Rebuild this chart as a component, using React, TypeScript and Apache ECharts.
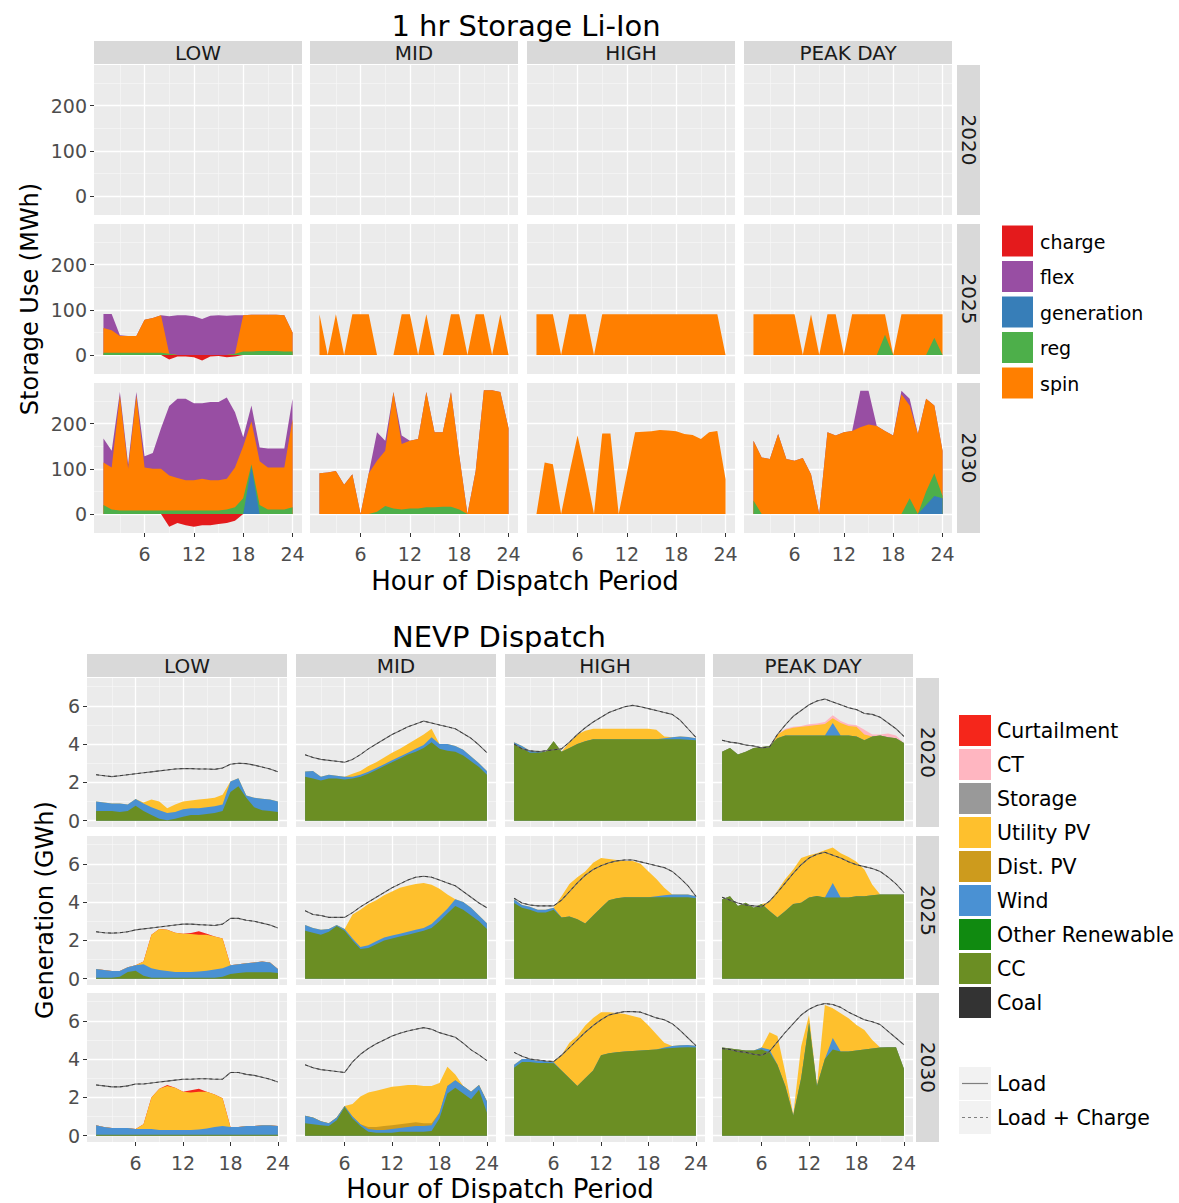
import React, { useEffect, useRef } from "react";
import * as echarts from "echarts";

// ---------- categories / ticks ----------
const HOURS = [1, 2, 3, 4, 5, 6, 7, 8, 9, 10, 11, 12, 13, 14, 15, 16, 17, 18, 19, 20, 21, 22, 23, 24];
const SCENARIOS = ["LOW", "MID", "HIGH", "PEAK DAY"];
const YEARS = ["2020", "2025", "2030"];
const X_TICKS = [6, 12, 18, 24];
const X_MINOR = [3, 9, 15, 21];
const STOR_TICKS = [0, 100, 200];
const STOR_MINOR = [50, 150, 250];
const GEN_TICKS = [0, 2, 4, 6];
const GEN_MINOR = [1, 3, 5, 7];

const STOR_LEGEND = ["charge", "flex", "generation", "reg", "spin"];
const STOR_COLORS = ["#E41A1C", "#984EA3", "#377EB8", "#4DAF4A", "#FF7F00"];
const GEN_LEGEND = ["Curtailment", "CT", "Storage", "Utility PV", "Dist. PV", "Wind", "Other Renewable", "CC", "Coal"];
const GEN_COLORS = ["#F5261B", "#FFB6C1", "#999999", "#FEC02D", "#CD9B1D", "#4A91D3", "#108A10", "#6B8E23", "#333333"];

// ---------- storage use (MWh), hours 1..24 ----------
const ST_LOW_2025_CHARGE = [0, 0, 0, 0, 0, 0, 0, 0, -10, -3, -3, -5, -12, -3, -2, -5, -3, 0, 0, 0, 0, 0, 0, 0];
const ST_LOW_2025_REG = [5, 5, 5, 5, 5, 5, 5, 5, 3, 0, 0, 0, 0, 0, 0, 0, 3, 8, 8, 9, 9, 9, 8, 8];
const ST_LOW_2025_SPIN = [55, 50, 37, 37, 37, 73, 77, 83, 0, 0, 0, 0, 0, 0, 0, 0, 0, 80, 81, 80, 80, 80, 80, 42];
const ST_LOW_2025_FLEX = [31, 36, 2, 0, 0, 0, 0, 0, 83, 88, 88, 86, 80, 87, 88, 87, 85, 0, 0, 0, 0, 0, 0, 0];

const ST_LOW_2030_CHARGE = [0, 0, 0, 0, 0, 0, 0, 0, -28, -20, -25, -28, -25, -25, -22, -20, -15, 0, 0, 0, 0, 0, 0, 0];
const ST_LOW_2030_GEN = [0, 0, 0, 0, 0, 0, 0, 0, 0, 0, 0, 0, 0, 0, 0, 0, 0, 0, 105, 0, 0, 0, 0, 0];
const ST_LOW_2030_REG = [20, 10, 8, 8, 8, 8, 8, 8, 8, 8, 8, 8, 8, 8, 8, 10, 15, 35, 5, 20, 10, 10, 10, 15];
const ST_LOW_2030_SPIN = [94, 93, 254, 92, 254, 95, 92, 92, 77, 72, 67, 67, 70, 67, 67, 68, 88, 115, 95, 97, 93, 93, 93, 195];
const ST_LOW_2030_FLEX = [53, 37, 8, 10, 8, 25, 35, 90, 154, 175, 180, 170, 167, 173, 173, 180, 122, 20, 35, 30, 42, 42, 42, 45];

const ST_MID_2025_SPIN = [90, 0, 90, 0, 90, 90, 90, 0, 0, 0, 90, 90, 0, 90, 0, 0, 90, 90, 0, 90, 90, 0, 90, 0];

const ST_MID_2030_REG = [0, 0, 0, 0, 0, 0, 0, 5, 18, 12, 10, 12, 12, 15, 15, 16, 16, 10, 0, 0, 0, 0, 0, 0];
const ST_MID_2030_SPIN = [90, 92, 95, 65, 88, 0, 90, 113, 122, 258, 145, 150, 154, 255, 166, 165, 254, 120, 0, 95, 274, 274, 270, 190];
const ST_MID_2030_FLEX = [0, 0, 0, 0, 0, 0, 0, 63, 22, 0, 19, 0, 0, 0, 0, 0, 0, 0, 0, 0, 0, 0, 0, 0];

const ST_HIGH_2025_SPIN = [90, 90, 90, 0, 90, 90, 90, 0, 90, 90, 90, 90, 90, 90, 90, 90, 90, 90, 90, 90, 90, 90, 90, 0];
const ST_HIGH_2030_SPIN = [0, 114, 110, 0, 90, 174, 90, 0, 178, 178, 0, 90, 181, 182, 183, 186, 185, 183, 177, 175, 166, 181, 184, 77];

const ST_PEAK_2025_REG = [0, 0, 0, 0, 0, 0, 0, 0, 0, 0, 0, 0, 0, 0, 0, 0, 45, 0, 0, 0, 0, 0, 38, 0];
const ST_PEAK_2025_SPIN = [90, 90, 90, 90, 90, 90, 0, 90, 0, 90, 90, 0, 90, 90, 90, 90, 45, 0, 90, 90, 90, 90, 52, 90];

const ST_PEAK_2030_GEN = [0, 0, 0, 0, 0, 0, 0, 0, 0, 0, 0, 0, 0, 0, 0, 0, 0, 0, 0, 0, 0, 20, 40, 35];
const ST_PEAK_2030_REG = [30, 0, 0, 0, 0, 0, 0, 0, 0, 0, 0, 0, 0, 0, 0, 0, 0, 0, 0, 35, 0, 30, 50, 5];
const ST_PEAK_2030_SPIN = [132, 125, 122, 177, 122, 118, 124, 88, 0, 181, 174, 181, 184, 192, 198, 195, 184, 174, 265, 205, 177, 205, 150, 100];
const ST_PEAK_2030_FLEX = [0, 0, 0, 0, 0, 0, 0, 0, 0, 0, 0, 0, 0, 81, 75, 0, 0, 0, 8, 15, 0, 0, 0, 0];

// ---------- NEVP dispatch (GWh), hours 1..24 ----------
const GN_LOW_2020_CC = [0.5, 0.5, 0.5, 0.45, 0.5, 0.78, 0.5, 0.3, 0.1, 0.02, 0.1, 0.2, 0.3, 0.3, 0.35, 0.4, 0.5, 1.5, 1.8, 1.2, 0.7, 0.55, 0.5, 0.45];
const GN_LOW_2020_WIND = [0.5, 0.45, 0.4, 0.45, 0.35, 0.35, 0.4, 0.4, 0.45, 0.38, 0.35, 0.4, 0.35, 0.35, 0.35, 0.35, 0.35, 0.55, 0.42, 0.12, 0.5, 0.6, 0.6, 0.55];
const GN_LOW_2020_UPV = [0, 0, 0, 0, 0, 0, 0.05, 0.4, 0.45, 0.25, 0.4, 0.4, 0.4, 0.45, 0.45, 0.45, 0.5, 0, 0, 0, 0, 0, 0, 0];
const GN_LOW_2020_LOAD = [2.4, 2.35, 2.3, 2.35, 2.4, 2.45, 2.5, 2.55, 2.6, 2.65, 2.7, 2.72, 2.72, 2.7, 2.7, 2.68, 2.75, 2.95, 3.0, 2.98, 2.9, 2.8, 2.7, 2.55];

const GN_MID_2020_CC = [2.3, 2.2, 2.1, 2.2, 2.2, 2.15, 2.2, 2.3, 2.45, 2.65, 2.85, 3.05, 3.25, 3.45, 3.6, 3.8, 4.1, 3.75, 3.65, 3.6, 3.4, 3.1, 2.8, 2.4];
const GN_MID_2020_WIND = [0.27, 0.4, 0.2, 0.2, 0.15, 0.15, 0.1, 0.1, 0.1, 0.1, 0.1, 0.1, 0.1, 0.1, 0.15, 0.15, 0.25, 0.25, 0.35, 0.3, 0.3, 0.25, 0.2, 0.2];
const GN_MID_2020_UPV = [0, 0, 0, 0, 0, 0, 0.15, 0.2, 0.3, 0.3, 0.35, 0.4, 0.4, 0.45, 0.5, 0.55, 0.45, 0, 0, 0, 0, 0, 0, 0];
const GN_MID_2020_LOAD = [3.44, 3.3, 3.2, 3.15, 3.1, 3.05, 3.2, 3.45, 3.75, 4.0, 4.25, 4.5, 4.7, 4.9, 5.05, 5.2, 5.1, 5.0, 4.9, 4.8, 4.55, 4.3, 3.95, 3.55];

const GN_HIGH_2020_CC = [4.0, 3.8, 3.55, 3.55, 3.6, 4.15, 3.6, 3.8, 4.0, 4.15, 4.25, 4.25, 4.25, 4.25, 4.25, 4.25, 4.25, 4.25, 4.25, 4.25, 4.25, 4.25, 4.22, 4.2];
const GN_HIGH_2020_WIND = [0.1, 0.1, 0.1, 0.1, 0, 0, 0, 0, 0, 0, 0, 0, 0, 0, 0, 0, 0, 0, 0, 0.05, 0.1, 0.15, 0.15, 0.1];
const GN_HIGH_2020_UPV = [0, 0, 0, 0, 0, 0, 0, 0.3, 0.5, 0.55, 0.55, 0.55, 0.55, 0.55, 0.55, 0.55, 0.55, 0.55, 0.5, 0.1, 0, 0, 0, 0];
const GN_HIGH_2020_LOAD = [4.0, 3.75, 3.65, 3.6, 3.65, 3.7, 3.75, 4.1, 4.5, 4.85, 5.15, 5.4, 5.65, 5.8, 5.95, 6.02, 5.95, 5.85, 5.75, 5.65, 5.55, 5.25, 4.8, 4.35];

const GN_PEAK_2020_CC = [3.6, 3.8, 3.45, 3.6, 3.8, 3.85, 3.9, 4.3, 4.45, 4.45, 4.45, 4.45, 4.45, 4.45, 4.45, 4.45, 4.45, 4.4, 4.2, 4.4, 4.45, 4.35, 4.3, 4.05];
const GN_PEAK_2020_WIND = [0, 0, 0, 0, 0, 0, 0, 0, 0, 0, 0, 0, 0, 0, 0.65, 0, 0, 0, 0, 0, 0, 0, 0, 0];
const GN_PEAK_2020_UPV = [0, 0, 0, 0, 0, 0, 0, 0.2, 0.3, 0.4, 0.45, 0.5, 0.55, 0.6, 0.25, 0.65, 0.5, 0.5, 0.3, 0, 0, 0, 0, 0];
const GN_PEAK_2020_CT = [0, 0, 0, 0, 0, 0, 0, 0, 0.05, 0.05, 0.05, 0.08, 0.08, 0.1, 0.15, 0.1, 0.08, 0.08, 0.25, 0.1, 0.05, 0.2, 0.15, 0];
const GN_PEAK_2020_LOAD = [4.2, 4.1, 4.05, 3.95, 3.9, 3.8, 3.85, 4.5, 5.0, 5.45, 5.75, 6.05, 6.25, 6.35, 6.2, 6.05, 5.9, 5.8, 5.6, 5.55, 5.4, 5.1, 4.8, 4.4];

const GN_LOW_2025_CC = [0.05, 0.05, 0.05, 0.1, 0.35, 0.42, 0.15, 0.05, 0.05, 0.05, 0.05, 0.05, 0.05, 0.05, 0.05, 0.05, 0.1, 0.25, 0.3, 0.33, 0.33, 0.33, 0.33, 0.3];
const GN_LOW_2025_WIND = [0.45, 0.4, 0.35, 0.3, 0.25, 0.28, 0.6, 0.5, 0.4, 0.35, 0.3, 0.3, 0.3, 0.33, 0.37, 0.43, 0.45, 0.45, 0.45, 0.47, 0.52, 0.57, 0.52, 0.2];
const GN_LOW_2025_UPV = [0, 0, 0, 0, 0, 0, 0.15, 1.75, 2.15, 2.15, 2.05, 2.0, 1.98, 1.92, 1.88, 1.72, 1.55, 0, 0, 0, 0, 0, 0, 0];
const GN_LOW_2025_CURT = [0, 0, 0, 0, 0, 0, 0, 0, 0, 0, 0, 0, 0.05, 0.18, 0.05, 0, 0, 0, 0, 0, 0, 0, 0, 0];
const GN_LOW_2025_LOAD = [2.45, 2.4, 2.38, 2.4, 2.45, 2.55, 2.6, 2.65, 2.7, 2.75, 2.8, 2.85, 2.85, 2.82, 2.8, 2.78, 2.85, 3.15, 3.15, 3.05, 3.0, 2.9, 2.8, 2.65];

const GN_MID_2025_CC = [2.5, 2.4, 2.3, 2.45, 2.75, 2.5, 2.0, 1.55, 1.6, 1.8, 2.0, 2.1, 2.2, 2.3, 2.4, 2.5, 2.65, 3.0, 3.4, 3.8, 3.6, 3.3, 3.0, 2.6];
const GN_MID_2025_WIND = [0.3, 0.25, 0.25, 0.15, 0.05, 0.1, 0.1, 0.1, 0.15, 0.15, 0.15, 0.15, 0.15, 0.15, 0.15, 0.15, 0.2, 0.25, 0.25, 0.35, 0.4, 0.4, 0.3, 0.3];
const GN_MID_2025_UPV = [0, 0, 0, 0, 0, 0, 1.25, 1.95, 2.15, 2.15, 2.2, 2.3, 2.4, 2.4, 2.4, 2.35, 2.05, 1.45, 0.75, 0, 0, 0, 0, 0];
const GN_MID_2025_LOAD = [3.55, 3.35, 3.3, 3.2, 3.2, 3.2, 3.45, 3.75, 4.0, 4.25, 4.5, 4.75, 4.95, 5.15, 5.3, 5.35, 5.3, 5.15, 5.0, 4.85, 4.55, 4.25, 3.95, 3.7];

const GN_HIGH_2025_CC = [3.95, 3.7, 3.6, 3.45, 3.45, 3.6, 3.2, 3.25, 3.1, 2.88, 3.3, 3.7, 4.1, 4.2, 4.25, 4.25, 4.25, 4.25, 4.25, 4.25, 4.25, 4.25, 4.25, 4.2];
const GN_HIGH_2025_WIND = [0.2, 0.15, 0.15, 0.15, 0.15, 0.1, 0, 0, 0, 0, 0, 0, 0, 0, 0, 0, 0, 0, 0.05, 0.1, 0.15, 0.15, 0.15, 0.1];
const GN_HIGH_2025_UPV = [0, 0, 0, 0, 0, 0, 1.1, 1.7, 2.2, 2.72, 2.75, 2.6, 2.15, 2.0, 1.9, 1.9, 1.75, 1.35, 0.9, 0.4, 0, 0, 0, 0];
const GN_HIGH_2025_LOAD = [4.2, 3.95, 3.85, 3.8, 3.8, 3.8, 4.1, 4.55, 5.0, 5.4, 5.7, 5.9, 6.05, 6.15, 6.2, 6.2, 6.1, 6.0, 5.9, 5.8, 5.6, 5.25, 4.85, 4.3];

const GN_PEAK_2025_CC = [4.15, 4.3, 3.8, 3.97, 3.7, 3.9, 3.54, 3.2, 3.54, 3.9, 3.97, 4.24, 4.32, 4.24, 4.24, 4.24, 4.24, 4.3, 4.3, 4.35, 4.4, 4.4, 4.4, 4.4];
const GN_PEAK_2025_WIND = [0, 0, 0, 0, 0, 0, 0, 0, 0, 0, 0, 0, 0, 0, 0.75, 0, 0, 0, 0, 0, 0, 0, 0, 0];
const GN_PEAK_2025_UPV = [0, 0, 0, 0, 0, 0, 0.46, 1.4, 1.66, 1.8, 2.33, 2.21, 2.23, 2.46, 1.86, 2.31, 2.11, 1.8, 1.4, 0.55, 0, 0, 0, 0];
const GN_PEAK_2025_LOAD = [4.25, 4.1, 3.95, 3.85, 3.8, 3.75, 4.05, 4.5, 5.0, 5.5, 5.95, 6.3, 6.5, 6.6, 6.45, 6.3, 6.1, 5.95, 5.85, 5.75, 5.6, 5.3, 4.95, 4.5];

const GN_LOW_2030_CC = [0.05, 0.05, 0.05, 0.05, 0.05, 0.05, 0.05, 0.05, 0.05, 0.05, 0.05, 0.05, 0.05, 0.05, 0.05, 0.05, 0.05, 0.05, 0.05, 0.05, 0.05, 0.05, 0.05, 0.05];
const GN_LOW_2030_WIND = [0.49, 0.4, 0.35, 0.35, 0.35, 0.3, 0.3, 0.3, 0.25, 0.25, 0.25, 0.25, 0.25, 0.27, 0.33, 0.4, 0.45, 0.4, 0.4, 0.45, 0.45, 0.5, 0.5, 0.45];
const GN_LOW_2030_UPV = [0, 0, 0, 0, 0, 0, 0.25, 1.65, 2.15, 2.3, 2.2, 2.0, 1.95, 1.98, 1.92, 1.7, 1.45, 0, 0, 0, 0, 0, 0, 0];
const GN_LOW_2030_CURT = [0, 0, 0, 0, 0, 0, 0, 0, 0, 0.05, 0, 0, 0.12, 0.15, 0, 0, 0, 0, 0, 0, 0, 0, 0, 0];
const GN_LOW_2030_LOAD = [2.65, 2.6, 2.55, 2.55, 2.6, 2.7, 2.7, 2.75, 2.8, 2.85, 2.9, 2.95, 2.95, 2.97, 2.97, 2.95, 2.95, 3.3, 3.3, 3.2, 3.15, 3.05, 2.95, 2.8];

const GN_MID_2030_CC = [0.65, 0.6, 0.55, 0.5, 0.8, 1.5, 0.9, 0.5, 0.2, 0.15, 0.15, 0.15, 0.2, 0.2, 0.2, 0.2, 0.25, 0.9, 2.2, 2.5, 2.2, 1.9, 2.4, 1.2];
const GN_MID_2030_WIND = [0.39, 0.35, 0.2, 0.15, 0.15, 0.05, 0.1, 0.1, 0.15, 0.15, 0.15, 0.2, 0.2, 0.25, 0.3, 0.3, 0.3, 0.3, 0.4, 0.4, 0.4, 0.4, 0.25, 0.6];
const GN_MID_2030_DPV = [0, 0, 0, 0, 0, 0, 0, 0, 0.1, 0.15, 0.2, 0.2, 0.2, 0.2, 0.2, 0.15, 0.1, 0, 0, 0, 0, 0, 0, 0];
const GN_MID_2030_UPV = [0, 0, 0, 0, 0, 0, 0.65, 1.45, 1.8, 1.9, 1.95, 2.0, 2.0, 2.0, 1.95, 1.95, 1.95, 1.55, 1.0, 0.3, 0, 0, 0, 0];
const GN_MID_2030_LOAD = [3.7, 3.55, 3.45, 3.4, 3.35, 3.3, 3.85, 4.25, 4.55, 4.8, 5.0, 5.2, 5.35, 5.47, 5.56, 5.64, 5.56, 5.38, 5.26, 5.14, 4.83, 4.48, 4.22, 3.92];

const GN_HIGH_2030_CC = [3.55, 3.85, 3.85, 3.8, 3.8, 3.78, 3.4, 3.0, 2.6, 3.0, 3.4, 4.2, 4.3, 4.35, 4.4, 4.42, 4.45, 4.47, 4.5, 4.55, 4.58, 4.6, 4.62, 4.6];
const GN_HIGH_2030_WIND = [0.15, 0.15, 0.15, 0.1, 0.1, 0.05, 0, 0, 0, 0, 0, 0, 0, 0, 0, 0, 0, 0, 0, 0.05, 0.1, 0.12, 0.12, 0.1];
const GN_HIGH_2030_UPV = [0, 0, 0, 0, 0, 0.07, 0.8, 1.85, 2.6, 2.75, 2.75, 2.25, 2.15, 2.05, 1.95, 1.83, 1.7, 1.28, 0.8, 0.25, 0, 0, 0, 0];
const GN_HIGH_2030_LOAD = [4.35, 4.15, 4.0, 3.95, 3.9, 3.87, 4.2, 4.6, 5.0, 5.4, 5.75, 6.05, 6.3, 6.4, 6.48, 6.48, 6.45, 6.3, 6.15, 6.05, 5.85, 5.5, 5.1, 4.7];

const GN_PEAK_2030_CC = [4.6, 4.55, 4.5, 4.45, 4.45, 4.5, 4.35, 3.7, 2.6, 1.05, 3.0, 5.9, 2.6, 4.0, 4.5, 4.4, 4.4, 4.45, 4.5, 4.55, 4.6, 4.62, 4.62, 3.5];
const GN_PEAK_2030_WIND = [0, 0, 0, 0, 0, 0.1, 0.15, 0, 0, 0, 0, 0, 0, 0, 0.6, 0, 0, 0, 0, 0, 0, 0, 0, 0];
const GN_PEAK_2030_UPV = [0, 0, 0, 0, 0, 0, 0.9, 1.5, 0.7, 0.05, 1.65, 0.4, 0, 2.82, 1.55, 1.99, 1.73, 1.33, 1.02, 0.45, 0, 0, 0, 0];
const GN_PEAK_2030_LOAD = [4.55, 4.5, 4.4, 4.35, 4.25, 4.2, 4.4, 4.9, 5.4, 5.85, 6.3, 6.6, 6.8, 6.9, 6.85, 6.7, 6.45, 6.25, 6.05, 5.95, 5.8, 5.45, 5.1, 4.75];

// ---------- panel tables (built from the arrays above) ----------
type StorPanel = { gen?: number[]; reg?: number[]; spin?: number[]; flex?: number[]; charge?: number[] };
const STOR_PANELS: Record<string, StorPanel> = {
  "2025|LOW": { reg: ST_LOW_2025_REG, spin: ST_LOW_2025_SPIN, flex: ST_LOW_2025_FLEX, charge: ST_LOW_2025_CHARGE },
  "2030|LOW": { gen: ST_LOW_2030_GEN, reg: ST_LOW_2030_REG, spin: ST_LOW_2030_SPIN, flex: ST_LOW_2030_FLEX, charge: ST_LOW_2030_CHARGE },
  "2025|MID": { spin: ST_MID_2025_SPIN },
  "2030|MID": { reg: ST_MID_2030_REG, spin: ST_MID_2030_SPIN, flex: ST_MID_2030_FLEX },
  "2025|HIGH": { spin: ST_HIGH_2025_SPIN },
  "2030|HIGH": { spin: ST_HIGH_2030_SPIN },
  "2025|PEAK DAY": { reg: ST_PEAK_2025_REG, spin: ST_PEAK_2025_SPIN },
  "2030|PEAK DAY": { gen: ST_PEAK_2030_GEN, reg: ST_PEAK_2030_REG, spin: ST_PEAK_2030_SPIN, flex: ST_PEAK_2030_FLEX },
};

type GenPanel = { cc: number[]; wind: number[]; dpv?: number[]; upv: number[]; ct?: number[]; curt?: number[]; load: number[] };
const GEN_PANELS: Record<string, GenPanel> = {
  "2020|LOW": { cc: GN_LOW_2020_CC, wind: GN_LOW_2020_WIND, upv: GN_LOW_2020_UPV, load: GN_LOW_2020_LOAD },
  "2020|MID": { cc: GN_MID_2020_CC, wind: GN_MID_2020_WIND, upv: GN_MID_2020_UPV, load: GN_MID_2020_LOAD },
  "2020|HIGH": { cc: GN_HIGH_2020_CC, wind: GN_HIGH_2020_WIND, upv: GN_HIGH_2020_UPV, load: GN_HIGH_2020_LOAD },
  "2020|PEAK DAY": { cc: GN_PEAK_2020_CC, wind: GN_PEAK_2020_WIND, upv: GN_PEAK_2020_UPV, ct: GN_PEAK_2020_CT, load: GN_PEAK_2020_LOAD },
  "2025|LOW": { cc: GN_LOW_2025_CC, wind: GN_LOW_2025_WIND, upv: GN_LOW_2025_UPV, curt: GN_LOW_2025_CURT, load: GN_LOW_2025_LOAD },
  "2025|MID": { cc: GN_MID_2025_CC, wind: GN_MID_2025_WIND, upv: GN_MID_2025_UPV, load: GN_MID_2025_LOAD },
  "2025|HIGH": { cc: GN_HIGH_2025_CC, wind: GN_HIGH_2025_WIND, upv: GN_HIGH_2025_UPV, load: GN_HIGH_2025_LOAD },
  "2025|PEAK DAY": { cc: GN_PEAK_2025_CC, wind: GN_PEAK_2025_WIND, upv: GN_PEAK_2025_UPV, load: GN_PEAK_2025_LOAD },
  "2030|LOW": { cc: GN_LOW_2030_CC, wind: GN_LOW_2030_WIND, upv: GN_LOW_2030_UPV, curt: GN_LOW_2030_CURT, load: GN_LOW_2030_LOAD },
  "2030|MID": { cc: GN_MID_2030_CC, wind: GN_MID_2030_WIND, dpv: GN_MID_2030_DPV, upv: GN_MID_2030_UPV, load: GN_MID_2030_LOAD },
  "2030|HIGH": { cc: GN_HIGH_2030_CC, wind: GN_HIGH_2030_WIND, upv: GN_HIGH_2030_UPV, load: GN_HIGH_2030_LOAD },
  "2030|PEAK DAY": { cc: GN_PEAK_2030_CC, wind: GN_PEAK_2030_WIND, upv: GN_PEAK_2030_UPV, load: GN_PEAK_2030_LOAD },
};

// ---------- layout ----------
const FONT = "DejaVu Sans";
const TOP_LEFTS = [94, 310, 527, 744];
const TOP_TOPS = [65, 224, 383];
const TOP_W = 208;
const TOP_H = 150;
const BOT_LEFTS = [87, 296, 505, 713];
const BOT_TOPS = [678, 836, 993];
const BOT_W = 200;
const BOT_H = 149;

type Layer = { name: string; color: string; values?: number[] };

function buildOption() {
  const grid: any[] = [];
  const xAxis: any[] = [];
  const yAxis: any[] = [];
  const series: any[] = [];
  const graphic: any[] = [];

  const addGrid = (left: number, top: number, w: number, h: number, yMin: number, yMax: number,
    yTicks: number[], yMinor: number[], showX: boolean, showY: boolean) => {
    const g = grid.length;
    grid.push({ left, top, width: w, height: h, show: true, backgroundColor: "#EBEBEB", borderWidth: 0 });
    const xb = { type: "value", gridIndex: g, min: -0.15, max: 25.15, axisLine: { show: false, onZero: false } };
    xAxis.push({
      ...xb,
      axisTick: { show: showX, customValues: X_TICKS, length: 4, lineStyle: { color: "#333333", width: 1 } },
      axisLabel: { show: showX, customValues: X_TICKS, color: "#4D4D4D", fontSize: 19, fontFamily: FONT, margin: 11 },
      splitLine: { show: true, lineStyle: { color: "#FFFFFF", width: 1.3 } },
    });
    xAxis.push({
      ...xb,
      axisTick: { show: false, customValues: X_MINOR },
      axisLabel: { show: false, customValues: X_MINOR },
      splitLine: { show: true, lineStyle: { color: "#F8F8F8", width: 0.6 } },
    });
    const yb = { type: "value", gridIndex: g, min: yMin, max: yMax, axisLine: { show: false, onZero: false } };
    yAxis.push({
      ...yb,
      axisTick: { show: showY, customValues: yTicks, length: 4, lineStyle: { color: "#333333", width: 1 } },
      axisLabel: { show: showY, customValues: yTicks, color: "#4D4D4D", fontSize: 19, fontFamily: FONT, margin: 7 },
      splitLine: { show: true, lineStyle: { color: "#FFFFFF", width: 1.3 } },
    });
    yAxis.push({
      ...yb,
      axisTick: { show: false, customValues: yMinor },
      axisLabel: { show: false, customValues: yMinor },
      splitLine: { show: true, lineStyle: { color: "#F8F8F8", width: 0.6 } },
    });
    return g;
  };

  // stacked areas: cumulative tops drawn from highest layer down (painter's order)
  const addStack = (g: number, layers: Layer[]) => {
    let run = HOURS.map(() => 0);
    const tops: { name: string; color: string; top: number[] }[] = [];
    layers.forEach((l) => {
      if (!l.values) return;
      const vals = l.values;
      run = run.map((v, i) => Math.round((v + vals[i]) * 1000) / 1000);
      tops.push({ name: l.name, color: l.color, top: run });
    });
    for (let k = tops.length - 1; k >= 0; k--) {
      const t = tops[k];
      series.push({
        type: "line", name: t.name, xAxisIndex: 2 * g, yAxisIndex: 2 * g,
        data: HOURS.map((hr, i) => [hr, t.top[i]]),
        symbol: "none", silent: true, z: 2,
        lineStyle: { width: 0, opacity: 0 },
        areaStyle: { color: t.color, opacity: 1 },
        emphasis: { disabled: true },
      });
    }
  };

  const stripText = (x: number, y: number, text: string, rot: number, size: number) => ({
    type: "text", x, y, rotation: rot, silent: true,
    style: { text, fill: "#1A1A1A", fontSize: size, fontFamily: FONT, align: "center", verticalAlign: "middle", textAlign: "center", textVerticalAlign: "middle" },
  });
  const plainText = (x: number, y: number, text: string, size: number, rot = 0, align = "center", color = "#000000") => ({
    type: "text", x, y, rotation: rot, silent: true,
    style: { text, fill: color, fontSize: size, fontFamily: FONT, align, verticalAlign: "middle", textAlign: align, textVerticalAlign: "middle" },
  });

  // ===== Top: 1 hr Storage Li-Ion =====
  YEARS.forEach((yr, r) => {
    SCENARIOS.forEach((sc, c) => {
      const g = addGrid(TOP_LEFTS[c], TOP_TOPS[r], TOP_W, TOP_H, -42, 290, STOR_TICKS, STOR_MINOR, r === 2, c === 0);
      const p = STOR_PANELS[yr + "|" + sc];
      if (p) {
        addStack(g, [
          { name: "generation", color: STOR_COLORS[2], values: p.gen },
          { name: "reg", color: STOR_COLORS[3], values: p.reg },
          { name: "spin", color: STOR_COLORS[4], values: p.spin },
          { name: "flex", color: STOR_COLORS[1], values: p.flex },
        ]);
        if (p.charge) addStack(g, [{ name: "charge", color: STOR_COLORS[0], values: p.charge }]);
      }
    });
  });
  SCENARIOS.forEach((sc, c) => {
    graphic.push({ type: "rect", silent: true, shape: { x: TOP_LEFTS[c], y: 41, width: TOP_W, height: 23 }, style: { fill: "#D9D9D9" } });
    graphic.push(stripText(TOP_LEFTS[c] + TOP_W / 2, 53, sc, 0, 20));
  });
  YEARS.forEach((yr, r) => {
    graphic.push({ type: "rect", silent: true, shape: { x: 957, y: TOP_TOPS[r], width: 23, height: TOP_H }, style: { fill: "#D9D9D9" } });
    graphic.push(stripText(968.5, TOP_TOPS[r] + TOP_H / 2, yr, -Math.PI / 2, 20));
  });
  graphic.push(plainText(526, 26, "1 hr Storage Li-Ion", 29));
  graphic.push(plainText(525, 581, "Hour of Dispatch Period", 26));
  graphic.push(plainText(30, 299, "Storage Use (MWh)", 24, Math.PI / 2));
  STOR_LEGEND.forEach((name, i) => {
    const y = 225.5 + i * 35.5;
    graphic.push({ type: "rect", silent: true, shape: { x: 1002, y, width: 31, height: 31 }, style: { fill: STOR_COLORS[i] } });
    graphic.push(plainText(1040, y + 16, name, 19, 0, "left"));
  });

  // ===== Bottom: NEVP Dispatch =====
  YEARS.forEach((yr, r) => {
    SCENARIOS.forEach((sc, c) => {
      const g = addGrid(BOT_LEFTS[c], BOT_TOPS[r], BOT_W, BOT_H, -0.33, 7.45, GEN_TICKS, GEN_MINOR, r === 2, c === 0);
      const p = GEN_PANELS[yr + "|" + sc];
      if (p) {
        addStack(g, [
          { name: "CC", color: GEN_COLORS[7], values: p.cc },
          { name: "Wind", color: GEN_COLORS[5], values: p.wind },
          { name: "Dist. PV", color: GEN_COLORS[4], values: p.dpv },
          { name: "Utility PV", color: GEN_COLORS[3], values: p.upv },
          { name: "CT", color: GEN_COLORS[1], values: p.ct },
          { name: "Curtailment", color: GEN_COLORS[0], values: p.curt },
        ]);
        series.push({
          type: "line", name: "Load", xAxisIndex: 2 * g, yAxisIndex: 2 * g,
          data: HOURS.map((hr, i) => [hr, p.load[i]]),
          symbol: "none", silent: true, z: 3,
          lineStyle: { color: "#6E6E6E", width: 1.1 },
          emphasis: { disabled: true },
        });
        series.push({
          type: "line", name: "Load + Charge", xAxisIndex: 2 * g, yAxisIndex: 2 * g,
          data: HOURS.map((hr, i) => [hr, p.load[i]]),
          symbol: "none", silent: true, z: 4,
          lineStyle: { color: "#333333", width: 0.9, type: [3, 3] },
          emphasis: { disabled: true },
        });
      }
    });
  });
  SCENARIOS.forEach((sc, c) => {
    graphic.push({ type: "rect", silent: true, shape: { x: BOT_LEFTS[c], y: 654, width: BOT_W, height: 23 }, style: { fill: "#D9D9D9" } });
    graphic.push(stripText(BOT_LEFTS[c] + BOT_W / 2, 666, sc, 0, 20));
  });
  YEARS.forEach((yr, r) => {
    graphic.push({ type: "rect", silent: true, shape: { x: 916, y: BOT_TOPS[r], width: 23, height: BOT_H }, style: { fill: "#D9D9D9" } });
    graphic.push(stripText(927.5, BOT_TOPS[r] + BOT_H / 2, yr, -Math.PI / 2, 20));
  });
  graphic.push(plainText(499, 637, "NEVP Dispatch", 29));
  graphic.push(plainText(500, 1189, "Hour of Dispatch Period", 26));
  graphic.push(plainText(45, 910, "Generation (GWh)", 24, Math.PI / 2));
  GEN_LEGEND.forEach((name, i) => {
    const y = 715 + i * 34;
    graphic.push({ type: "rect", silent: true, shape: { x: 959, y, width: 32, height: 31 }, style: { fill: GEN_COLORS[i] } });
    graphic.push(plainText(997, y + 16, name, 20.5, 0, "left"));
  });
  ["Load", "Load + Charge"].forEach((name, i) => {
    const y = 1067 + i * 34;
    graphic.push({ type: "rect", silent: true, shape: { x: 959, y, width: 32, height: 33 }, style: { fill: "#F2F2F2" } });
    graphic.push({
      type: "line", silent: true, shape: { x1: 962, y1: y + 16.5, x2: 988, y2: y + 16.5 },
      style: { stroke: "#7F7F7F", lineWidth: 1.2, lineDash: i === 1 ? [3, 3] : null },
    });
    graphic.push(plainText(997, y + 17, name, 20.5, 0, "left"));
  });

  return {
    animation: false,
    backgroundColor: "#FFFFFF",
    grid, xAxis, yAxis, series, graphic,
  };
}

export default function App() {
  const ref = useRef<HTMLDivElement>(null);
  useEffect(() => {
    if (!ref.current) return;
    const chart = echarts.init(ref.current, null, { renderer: "svg" });
    chart.setOption(buildOption() as any);
    return () => chart.dispose();
  }, []);
  return (
    <div
      ref={ref}
      style={{ position: "absolute", left: 0, top: 0, width: 1179, height: 1203, background: "#FFFFFF" }}
    />
  );
}
